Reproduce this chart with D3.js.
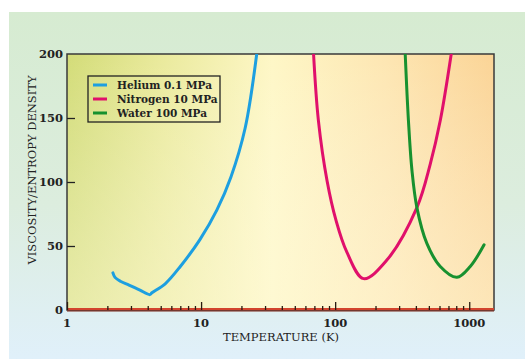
<!DOCTYPE html>
<html>
<head>
<meta charset="utf-8">
<script src="https://cdn.jsdelivr.net/npm/d3@7"></script>
<style>
  body { margin: 0; background: #fff; }
  svg { display: block; }
</style>
</head>
<body>
<div id="chart"></div>
<script>
// data (temperature K, viscosity/entropy density)
var seriesNames = ["Helium 0.1 MPa", "Nitrogen 10 MPa", "Water 100 MPa"];
var seriesColors = ["#1d9fe0", "#e0106b", "#17912f"];

var heliumT = [2.2, 2.28, 2.5, 2.9, 3.5, 4.15, 4.3, 5.4, 7.0, 9.8, 13.1, 16.7, 21.3, 26];
var heliumV = [29, 25.5, 22.5, 19.5, 15.5, 12, 13.5, 20.5, 34, 55, 78, 104, 142, 200];

var nitrogenT = [69, 75, 87, 101.5, 122.5, 163, 243, 407, 512, 608, 734];
var nitrogenV = [200, 148, 101, 70, 45, 24.5, 39, 80, 114, 148, 200];

var waterT = [333, 352, 374, 407, 483, 608, 809, 1017, 1290];
var waterV = [200, 148, 109, 80, 52, 34, 25.5, 34, 51];

var xTickValues = [1, 2, 3, 4, 5, 6, 7, 8, 9, 10, 20, 30, 40, 50, 60, 70, 80, 90,
                   100, 200, 300, 400, 500, 600, 700, 800, 900, 1000];
var xLabelValues = [1, 10, 100, 1000];
var yTickValues = [0, 50, 100, 150, 200];

var W = 525, H = 360;
var pLeft = 67, pRight = 494, pTop = 54, pBottom = 310;

var svg = d3.select("#chart").append("svg")
  .attr("width", W)
  .attr("height", H);

var defs = svg.append("defs");

var bg = defs.append("linearGradient").attr("id", "outer")
  .attr("x1", 0).attr("y1", 0).attr("x2", 0).attr("y2", 1);
bg.append("stop").attr("offset", "0%").attr("stop-color", "#d6ebd1");
bg.append("stop").attr("offset", "55%").attr("stop-color", "#dcedde");
bg.append("stop").attr("offset", "100%").attr("stop-color", "#e0f0fa");

var pg = defs.append("linearGradient").attr("id", "plotbg")
  .attr("x1", 0).attr("y1", 0).attr("x2", 1).attr("y2", 0);
pg.append("stop").attr("offset", "0%").attr("stop-color", "#d3dc78");
pg.append("stop").attr("offset", "22%").attr("stop-color", "#eaea9c");
pg.append("stop").attr("offset", "48%").attr("stop-color", "#fef7c6");
pg.append("stop").attr("offset", "75%").attr("stop-color", "#fde6b2");
pg.append("stop").attr("offset", "100%").attr("stop-color", "#fbd496");

var pv = defs.append("linearGradient").attr("id", "plotfade")
  .attr("x1", 0).attr("y1", 0).attr("x2", 0).attr("y2", 1);
pv.append("stop").attr("offset", "0%").attr("stop-color", "#ffffff").attr("stop-opacity", 0);
pv.append("stop").attr("offset", "100%").attr("stop-color", "#fffbe0").attr("stop-opacity", 0.45);

defs.append("clipPath").attr("id", "clip")
  .append("rect")
  .attr("x", pLeft).attr("y", pTop)
  .attr("width", pRight - pLeft).attr("height", pBottom - pTop);

// outer panel
svg.append("rect")
  .attr("x", 9).attr("y", 12)
  .attr("width", W - 9).attr("height", H - 13)
  .attr("fill", "url(#outer)");

// plot area
svg.append("rect")
  .attr("x", pLeft).attr("y", pTop)
  .attr("width", pRight - pLeft).attr("height", pBottom - pTop)
  .attr("fill", "url(#plotbg)");
svg.append("rect")
  .attr("x", pLeft).attr("y", pTop)
  .attr("width", pRight - pLeft).attr("height", pBottom - pTop)
  .attr("fill", "url(#plotfade)");

var xScale = d3.scaleLog()
  .domain([1, 1530])
  .range([pLeft, pRight]);

var yScale = d3.scaleLinear()
  .domain([0, 200])
  .range([pBottom, pTop]);

var fontFam = "'DejaVu Serif', 'Liberation Serif', serif";

// frame
svg.append("rect")
  .attr("x", pLeft).attr("y", pTop)
  .attr("width", pRight - pLeft).attr("height", pBottom - pTop)
  .attr("fill", "none")
  .attr("stroke", "#3a3a3a")
  .attr("stroke-width", 1.5);

// zero line
svg.append("line")
  .attr("x1", pLeft).attr("x2", pRight)
  .attr("y1", yScale(0) - 1).attr("y2", yScale(0) - 1)
  .attr("stroke", "#d2442e")
  .attr("stroke-width", 2);
svg.append("line")
  .attr("x1", pLeft).attr("x2", pRight)
  .attr("y1", yScale(0) + 0.8).attr("y2", yScale(0) + 0.8)
  .attr("stroke", "#7a2a1c")
  .attr("stroke-width", 1.2);

// x axis (ticks inward)
var xAxis = d3.axisBottom(xScale)
  .tickValues(xTickValues)
  .tickSize(0)
  .tickFormat("");

var gx = svg.append("g")
  .attr("transform", "translate(0," + pBottom + ")")
  .call(xAxis);
gx.select(".domain").remove();
gx.selectAll(".tick line")
  .attr("y2", (d) => xLabelValues.indexOf(d) >= 0 ? -8 : -4)
  .attr("stroke", "#2a1a10")
  .attr("stroke-width", 1.3);

svg.selectAll(".xlabel")
  .data(xLabelValues)
  .enter()
  .append("text")
  .attr("class", "xlabel")
  .attr("x", (d) => xScale(d))
  .attr("y", pBottom + 17)
  .attr("text-anchor", "middle")
  .attr("font-family", fontFam)
  .attr("font-size", "11.5px")
  .attr("font-weight", "bold")
  .attr("fill", "#222")
  .text((d) => d);

// y axis (ticks inward)
var yAxis = d3.axisLeft(yScale)
  .tickValues(yTickValues)
  .tickSize(0)
  .tickPadding(4);

var gy = svg.append("g")
  .attr("transform", "translate(" + pLeft + ",0)")
  .call(yAxis);
gy.select(".domain").remove();
gy.selectAll(".tick line")
  .attr("x2", (d) => (d === 0 || d === 200) ? 0 : 8)
  .attr("stroke", "#222")
  .attr("stroke-width", 1.3);
gy.selectAll(".tick text")
  .attr("font-family", fontFam)
  .attr("font-size", "11.5px")
  .attr("font-weight", "bold")
  .attr("fill", "#222");

// axis titles
svg.append("text")
  .attr("x", 281)
  .attr("y", 341)
  .attr("text-anchor", "middle")
  .attr("font-family", fontFam)
  .attr("font-size", "11.5px")
  .attr("fill", "#222")
  .text("TEMPERATURE (K)");

svg.append("text")
  .attr("transform", "translate(36,170) rotate(-90)")
  .attr("text-anchor", "middle")
  .attr("font-family", fontFam)
  .attr("font-size", "11.5px")
  .attr("fill", "#222")
  .text("VISCOSITY/ENTROPY DENSITY");

// curves
var series = [
  { name: seriesNames[0], color: seriesColors[0], t: heliumT, v: heliumV },
  { name: seriesNames[1], color: seriesColors[1], t: nitrogenT, v: nitrogenV },
  { name: seriesNames[2], color: seriesColors[2], t: waterT, v: waterV }
];

var line = d3.line()
  .x((d) => xScale(d[0]))
  .y((d) => yScale(d[1]))
  .curve(d3.curveCatmullRom.alpha(0.5));

svg.append("g")
  .attr("clip-path", "url(#clip)")
  .selectAll("path")
  .data(series)
  .enter()
  .append("path")
  .attr("d", (s) => line(s.t.map((t, i) => [t, s.v[i]])))
  .attr("fill", "none")
  .attr("stroke", (s) => s.color)
  .attr("stroke-width", 3)
  .attr("stroke-linejoin", "round")
  .attr("stroke-linecap", "round");

// legend
var lg = svg.append("g").attr("transform", "translate(88,76)");
lg.append("rect")
  .attr("x", 0).attr("y", 0)
  .attr("width", 132).attr("height", 46)
  .attr("fill", "none")
  .attr("stroke", "#222")
  .attr("stroke-width", 1.3);

var items = lg.selectAll(".item")
  .data(series)
  .enter()
  .append("g")
  .attr("class", "item")
  .attr("transform", (d, i) => "translate(0," + (9 + i * 14) + ")");

items.append("line")
  .attr("x1", 5).attr("x2", 19)
  .attr("y1", 0).attr("y2", 0)
  .attr("stroke", (d) => d.color)
  .attr("stroke-width", 3);

items.append("text")
  .attr("x", 29)
  .attr("y", 4)
  .attr("font-family", fontFam)
  .attr("font-size", "10.5px")
  .attr("font-weight", "bold")
  .attr("fill", "#222")
  .text((d) => d.name);
</script>
</body>
</html>
